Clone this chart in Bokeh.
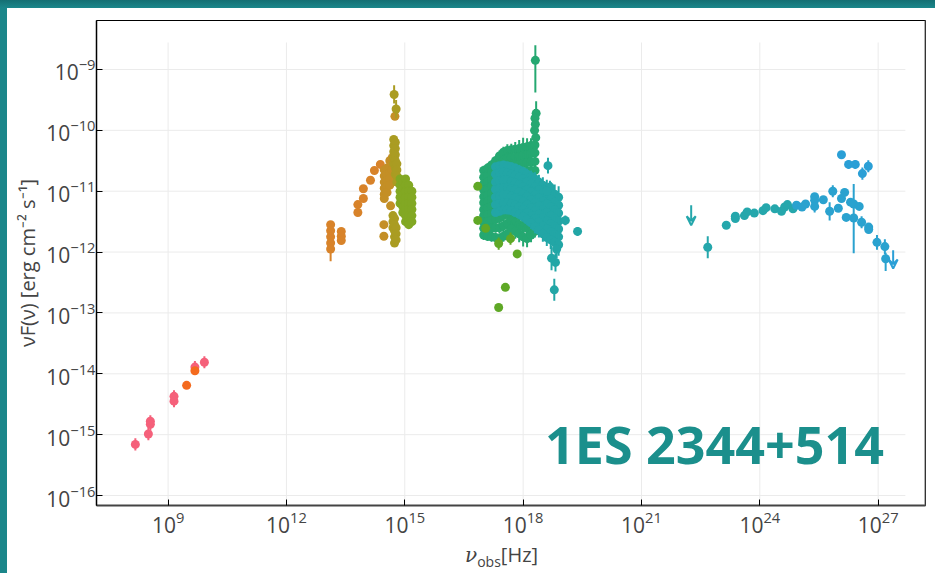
import numpy as np
from bokeh.plotting import figure
from bokeh.layouts import column, row
from bokeh.models import (ColumnDataSource, FixedTicker, Label, Arrow, VeeHead, Div, Span)
from bokeh.embed import file_html
from bokeh.resources import INLINE

# ---------------- data (log10 nu [Hz], log10 nuFnu [erg cm^-2 s^-1], errors in dex) ----
radio_nu = [8.17, 8.50, 8.55, 8.55, 9.15, 9.15, 9.68, 9.92]
radio_f = [-15.16, -14.99, -14.78, -14.83, -14.37, -14.45, -13.89, -13.81]
radio_e = [0.10, 0.10, 0.10, 0.10, 0.10, 0.10, 0.10, 0.10]

radio2_nu = [9.47, 9.68]
radio2_f = [-14.19, -13.95]
radio2_e = [0.0, 0.04]

ir_nu = [13.12, 13.12, 13.12, 13.12, 13.12, 13.39, 13.39, 13.39, 13.81, 13.81, 13.95, 13.95, 14.13, 14.23, 14.38]
ir_f = [-11.55, -11.65, -11.75, -11.85, -11.95, -11.66, -11.74, -11.81, -11.22, -11.35, -10.96, -11.12, -10.82, -10.66, -10.56]
ir_e = [0.05, 0.05, 0.05, 0.05, 0.20, 0.04, 0.04, 0.04, 0.04, 0.04, 0.04, 0.04, 0.03, 0.03, 0.03]

opta_nu = [14.48, 14.48, 14.48, 14.48, 14.48, 14.48, 14.55, 14.55, 14.55, 14.55, 14.55,
           14.62, 14.62, 14.62, 14.62, 14.62, 14.68, 14.68, 14.68, 14.64, 14.47, 14.47, 14.75]
opta_f = [-10.65, -10.75, -10.85, -10.95, -11.05, -11.12, -10.62, -10.72, -10.82, -10.92, -11.02,
          -10.50, -10.60, -10.70, -10.80, -10.90, -10.45, -10.55, -10.65, -11.24, -11.55, -11.74, -9.77]
opta_e = [0.04] * 22 + [0.05]

optb_nu = [14.72, 14.72, 14.72, 14.72, 14.72, 14.76, 14.76, 14.76, 14.76, 14.76, 14.76,
           14.80, 14.80, 14.80, 14.80, 14.70, 14.70, 14.70, 14.74, 14.74, 14.74, 14.74, 14.74,
           14.78, 14.78, 14.78, 14.73, 14.78]
optb_f = [-10.15, -10.25, -10.35, -10.45, -10.55, -10.20, -10.30, -10.40, -10.50, -10.62, -10.72,
          -10.55, -10.65, -10.75, -10.85, -11.40, -11.50, -11.60, -11.45, -11.55, -11.65, -11.75, -11.85,
          -11.60, -11.70, -11.80, -9.41, -9.65]
optb_e = [0.04] * 26 + [0.15, 0.15]

optc_nu = [14.88, 14.88, 14.88, 14.88, 14.88, 14.95, 14.95, 14.95, 14.95, 14.95, 14.95,
           15.02, 15.02, 15.02, 15.02, 15.02, 15.02, 15.02, 15.02,
           15.10, 15.10, 15.10, 15.10, 15.10, 15.10, 15.10, 15.10,
           15.18, 15.18, 15.18, 15.18, 15.18, 15.18]
optc_f = [-10.80, -10.90, -11.00, -11.10, -11.20, -10.85, -10.95, -11.05, -11.15, -11.25, -11.35,
          -10.80, -10.90, -11.00, -11.10, -11.20, -11.30, -11.40, -11.50,
          -10.90, -11.00, -11.10, -11.20, -11.30, -11.40, -11.50, -11.55,
          -11.00, -11.10, -11.20, -11.30, -11.40, -11.50]
optc_e = [0.04] * 33

# X-ray spectra, green set (one list per spectrum)
xg_nu = [17.0, 17.1, 17.2, 17.3, 17.4, 17.5, 17.6, 17.7, 17.8, 17.9, 18.0, 18.1, 18.2, 18.3]
xg_s1 = [-10.66, -10.62, -10.57, -10.50, -10.42, -10.36, -10.33, -10.32, -10.31, -10.30, -10.28, -10.27, -10.25, -10.24]
xg_s2 = [-10.77, -10.74, -10.69, -10.62, -10.55, -10.49, -10.46, -10.45, -10.44, -10.43, -10.41, -10.40, -10.38, -10.37]
xg_s3 = [-10.88, -10.85, -10.81, -10.75, -10.68, -10.62, -10.59, -10.58, -10.57, -10.56, -10.54, -10.53, -10.52, -10.51]
xg_s4 = [-10.98, -10.96, -10.92, -10.87, -10.80, -10.75, -10.72, -10.71, -10.70, -10.69, -10.68, -10.67, -10.66, -10.66]
xg_s5 = [-11.09, -11.07, -11.03, -10.99, -10.93, -10.88, -10.85, -10.84, -10.83, -10.82, -10.82, -10.81, -10.81, -10.81]
xg_s6 = [-11.19, -11.17, -11.14, -11.10, -11.05, -11.01, -10.98, -10.97, -10.96, -10.96, -10.96, -10.96, -10.96, -10.96]
xg_s7 = [-11.30, -11.28, -11.25, -11.22, -11.18, -11.14, -11.11, -11.10, -11.10, -11.10, -11.11, -11.11, -11.12, -11.12]
xg_s8 = [-11.40, -11.39, -11.37, -11.34, -11.31, -11.27, -11.24, -11.23, -11.24, -11.25, -11.26, -11.27, -11.28, -11.27]
xg_s9 = [-11.51, -11.50, -11.48, -11.46, -11.44, -11.40, -11.37, -11.36, -11.38, -11.40, -11.42, -11.44, -11.43, -11.42]
xg_s10 = [-11.61, -11.62, -11.61, -11.60, -11.60, -11.57, -11.53, -11.49, -11.52, -11.55, -11.58, -11.61, -11.58, -11.54]
xg_s11 = [-11.72, -11.74, -11.75, -11.76, -11.78, -11.74, -11.70, -11.62, -11.66, -11.70, -11.75, -11.78, -11.72, -11.66]
xg_e = [0.08, 0.08, 0.08, 0.08, 0.09, 0.09, 0.10, 0.10, 0.12, 0.14, 0.16, 0.14, 0.12, 0.10]

xspike_nu = [18.31, 18.33, 18.30, 18.32, 18.29, 18.31]
xspike_f = [-8.85, -9.72, -9.80, -10.12, -10.00, -9.90]
xspike_eu = [0.25, 0.20, 0.15, 0.10, 0.12, 0.10]
xspike_ed = [0.53, 0.20, 0.15, 0.10, 0.12, 0.10]

xo_nu = [16.85, 16.85, 17.05, 17.38, 17.68, 17.85, 17.55, 17.38]
xo_f = [-10.92, -11.48, -11.61, -11.86, -11.78, -12.03, -12.58, -12.91]
xo_e = [0.03, 0.03, 0.03, 0.10, 0.10, 0.05, 0.03, 0.03]

# X-ray spectra, teal set
xt_nu = [17.3, 17.4, 17.5, 17.6, 17.7, 17.8, 17.9, 18.0, 18.1, 18.2, 18.3, 18.4, 18.5, 18.6, 18.7, 18.8, 18.9]
xt_s1 = [-10.60, -10.58, -10.57, -10.58, -10.60, -10.62, -10.65, -10.68, -10.72, -10.76, -10.80, -10.85, -10.90, -10.95, -11.00, -11.05, -11.10]
xt_s2 = [-10.72, -10.70, -10.69, -10.70, -10.72, -10.74, -10.77, -10.80, -10.84, -10.88, -10.93, -10.98, -11.03, -11.08, -11.13, -11.18, -11.23]
xt_s3 = [-10.85, -10.83, -10.82, -10.82, -10.84, -10.86, -10.89, -10.93, -10.97, -11.01, -11.06, -11.11, -11.16, -11.21, -11.26, -11.31, -11.36]
xt_s4 = [-10.97, -10.95, -10.94, -10.94, -10.96, -10.98, -11.01, -11.05, -11.09, -11.14, -11.19, -11.24, -11.30, -11.35, -11.40, -11.45, -11.49]
xt_s5 = [-11.10, -11.08, -11.06, -11.06, -11.08, -11.11, -11.14, -11.17, -11.22, -11.27, -11.32, -11.38, -11.43, -11.49, -11.54, -11.58, -11.62]
xt_s6 = [-11.22, -11.20, -11.19, -11.19, -11.20, -11.23, -11.26, -11.30, -11.35, -11.40, -11.45, -11.51, -11.57, -11.62, -11.67, -11.71, -11.75]
xt_s7 = [-11.35, -11.33, -11.31, -11.31, -11.32, -11.35, -11.38, -11.42, -11.47, -11.52, -11.58, -11.64, -11.70, -11.76, -11.80, -11.84, -11.88]
xt_e = [0.06, 0.06, 0.06, 0.06, 0.07, 0.07, 0.08, 0.08, 0.09, 0.10, 0.11, 0.12, 0.13, 0.14, 0.15, 0.16, 0.18]

xte_nu = [18.63, 18.68, 18.60, 19.07, 19.38, 18.82, 18.79, 18.72, 18.85]
xte_f = [-10.58, -10.93, -11.00, -11.48, -11.66, -12.17, -12.62, -12.10, -11.95]
xte_e = [0.13, 0.10, 0.10, 0.08, 0.07, 0.15, 0.18, 0.20, 0.15]

# gamma rays
gt_nu = [22.68, 23.15, 23.38, 23.38, 23.61, 23.68, 23.86, 24.08, 24.16, 24.38, 24.55, 24.63, 24.70, 24.84]
gt_f = [-11.92, -11.56, -11.45, -11.41, -11.40, -11.34, -11.36, -11.32, -11.27, -11.29, -11.33, -11.26, -11.22, -11.29]
gt_e = [0.18, 0.04, 0.04, 0.04, 0.04, 0.04, 0.04, 0.04, 0.04, 0.04, 0.05, 0.05, 0.05, 0.05]

gb_nu = [24.93, 25.07, 25.16, 25.39, 25.39, 25.39, 25.61, 25.77, 25.85, 25.99, 26.07, 26.15,
         26.19, 26.30, 26.38, 26.38, 26.52, 26.58, 26.76, 26.76, 26.97, 27.17, 27.19]
gb_f = [-11.23, -11.26, -11.21, -11.09, -11.15, -11.25, -11.14, -11.33, -11.00, -11.28, -11.12, -11.02,
        -11.43, -11.18, -11.21, -11.44, -11.25, -11.51, -11.59, -11.63, -11.84, -11.91, -12.11]
gb_eu = [0.05, 0.05, 0.05, 0.06, 0.06, 0.10, 0.05, 0.15, 0.10, 0.05, 0.05, 0.06,
         0.05, 0.05, 0.33, 0.05, 0.05, 0.10, 0.06, 0.06, 0.12, 0.12, 0.10]
gb_ed = [0.05, 0.05, 0.05, 0.06, 0.06, 0.10, 0.05, 0.15, 0.10, 0.05, 0.05, 0.06,
         0.05, 0.05, 0.81, 0.05, 0.05, 0.10, 0.06, 0.06, 0.12, 0.12, 0.20]

tev_nu = [26.07, 26.25, 26.42, 26.60, 26.75]
tev_f = [-10.40, -10.56, -10.56, -10.71, -10.59]
tev_e = [0.05, 0.07, 0.07, 0.10, 0.10]

ul_nu = [22.26, 27.38]
ul_top = [-11.23, -11.97]
ul_tip = [-11.56, -12.27]

x_ticks = [1e9, 1e12, 1e15, 1e18, 1e21, 1e24, 1e27]
y_ticks = [1e-16, 1e-15, 1e-14, 1e-13, 1e-12, 1e-11, 1e-10, 1e-9]

FONT = "Open Sans"
TEAL = "#1b868a"
X_LO, X_HI = 7.185, 28.2
Y_LO, Y_HI = -16.164, -8.195
GRID_X_END = 27.69      # horizontal grid lines stop short of the right frame
GRID_Y_END = -8.556     # vertical grid lines stop short of the top frame

p = figure(width=928, height=532, x_axis_type="log", y_axis_type="log",
           x_range=(10 ** X_LO, 10 ** X_HI), y_range=(10 ** Y_LO, 10 ** Y_HI),
           output_backend="svg", toolbar_location=None,
           min_border_left=89, min_border_right=10, min_border_top=12, min_border_bottom=35,
           background_fill_color="white", border_fill_color="white", margin=0)
p.outline_line_color = "black"
p.outline_line_width = 1

p.xaxis.ticker = FixedTicker(ticks=x_ticks)
p.yaxis.ticker = FixedTicker(ticks=y_ticks)
for ax in (p.xaxis[0], p.yaxis[0]):
    ax.major_tick_in = 6
    ax.major_tick_out = 0
    ax.minor_tick_line_color = None
    ax.major_label_text_font = FONT
    ax.major_label_text_font_size = "21px"
    ax.major_label_text_color = "#444444"
    ax.major_tick_line_color = "black"
p.yaxis.axis_line_color = "black"
p.yaxis.axis_line_width = 1.5
p.xaxis.axis_line_color = "#444444"
p.xaxis.axis_line_width = 2
p.xaxis.major_label_standoff = 5
p.yaxis.major_label_standoff = 1
p.yaxis.axis_label = "νF(ν) [erg cm⁻² s⁻¹]"
p.yaxis.axis_label_text_font = FONT
p.yaxis.axis_label_text_font_style = "normal"
p.yaxis.axis_label_text_font_size = "20px"
p.yaxis.axis_label_text_color = "#444444"
p.yaxis.axis_label_standoff = 2

p.xgrid.grid_line_color = None
p.ygrid.grid_line_color = None
xt_arr = np.array(x_ticks, dtype=float)
yt_arr = np.array(y_ticks, dtype=float)
p.segment(x0=xt_arr, x1=xt_arr, y0=[10 ** Y_LO] * len(xt_arr), y1=[10 ** GRID_Y_END] * len(xt_arr),
          line_color="#ebebeb", line_width=1)
p.segment(x0=[10 ** X_LO] * len(yt_arr), x1=[10 ** GRID_X_END] * len(yt_arr), y0=yt_arr, y1=yt_arr,
          line_color="#ebebeb", line_width=1)

p.add_layout(Span(location=10 ** X_HI, dimension="height", line_color="#666666", line_width=2))


def pw(a):
    return np.power(10.0, np.asarray(a, dtype=float))


def draw(nu, f, eu, color, ed=None, size=9):
    nu = np.asarray(nu, dtype=float)
    f = np.asarray(f, dtype=float)
    eu = np.asarray(eu, dtype=float)
    ed = eu if ed is None else np.asarray(ed, dtype=float)
    src = ColumnDataSource(dict(x=pw(nu), y=pw(f), y0=pw(f - ed), y1=pw(f + eu)))
    p.segment(x0="x", y0="y0", x1="x", y1="y1", source=src, line_color=color, line_width=2)
    p.scatter(x="x", y="y", source=src, marker="circle", size=size,
              fill_color=color, line_color=color, line_width=0)


draw(radio_nu, radio_f, radio_e, "#f5607a")
draw(radio2_nu, radio2_f, radio2_e, "#f46a1e")
draw(ir_nu, ir_f, ir_e, "#d8832a")
draw(opta_nu, opta_f, opta_e, "#c48f26")
draw(optb_nu, optb_f, optb_e, "#aa9c22")
draw(optc_nu, optc_f, optc_e, "#82a823")
for s in (xg_s1, xg_s2, xg_s3, xg_s4, xg_s5, xg_s6, xg_s7, xg_s8, xg_s9, xg_s10, xg_s11):
    draw(xg_nu, s, xg_e, "#25a871")
draw(xspike_nu, xspike_f, xspike_eu, "#25a871", ed=xspike_ed)
draw(xo_nu, xo_f, xo_e, "#5fa826")
for s in (xt_s1, xt_s2, xt_s3, xt_s4, xt_s5, xt_s6, xt_s7):
    draw(xt_nu, s, xt_e, "#22a6a6")
draw(xte_nu, xte_f, xte_e, "#22a6a6")
draw(gt_nu, gt_f, gt_e, "#25a7ac")
draw(gb_nu, gb_f, gb_eu, "#2aa2cf", ed=gb_ed)
draw(tev_nu, tev_f, tev_e, "#2a9fd6")

ul_colors = ["#25a7ac", "#2a9fd6"]
for n, t0, t1, c in zip(ul_nu, ul_top, ul_tip, ul_colors):
    p.add_layout(Arrow(end=VeeHead(size=9, line_color=c, line_width=2, fill_color=None),
                       x_start=10 ** n, y_start=10 ** t0, x_end=10 ** n, y_end=10 ** t1,
                       line_color=c, line_width=2))

p.add_layout(Label(x=10 ** 22.85, y=10 ** -15.15, text="1ES 2344+514",
                   text_font=FONT, text_font_style="bold", text_font_size="52px",
                   text_color="#1b8f8c", text_align="center", text_baseline="alphabetic"))

# x-axis label  nu_obs[Hz] as real HTML text under the figure
xlabel = Div(
    text=('<span style="display:inline-block;position:relative;top:5px;margin-left:458px;'
          'font-family:\'Open Sans\';font-size:20px;line-height:20px;color:#444444;white-space:nowrap;">'
          '<span style="font-family:\'DejaVu Serif\';font-style:italic;">ν</span>'
          '<sub style="font-size:14px;">obs</sub>[Hz]</span>'),
    width=928, height=33, margin=0, styles={"background-color": "white"})

top_band = Div(text="", width=935, height=8, margin=0,
               styles={"background": "linear-gradient(#156f73, #1b878b)"})
left_band = Div(text="", width=7, height=565, margin=0, styles={"background-color": TEAL})
layout = column(top_band,
                row(left_band, column(p, xlabel, margin=0, spacing=0), margin=0, spacing=0),
                margin=0, spacing=0)
open("out.html", "w").write(file_html(layout, INLINE))
